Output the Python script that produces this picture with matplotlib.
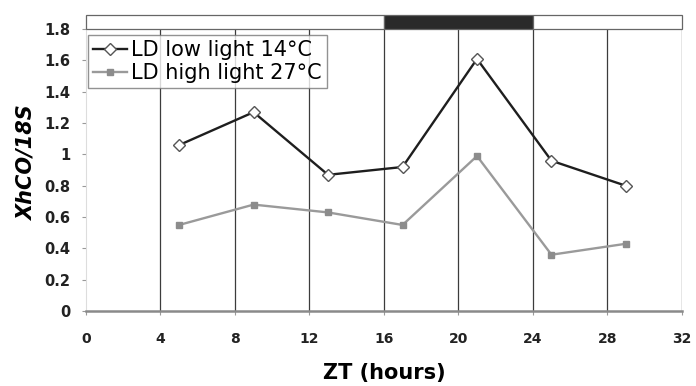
import matplotlib
matplotlib.use("Agg")
import matplotlib.pyplot as plt
from matplotlib.patches import Rectangle

plt.rcParams['font.family'] = ['DejaVu Sans']

# sampling times (ZT hours) and XhCO/18S expression
zt = [5, 9, 13, 17, 21, 25, 29]
low_light_14 = [1.06, 1.27, 0.87, 0.92, 1.61, 0.96, 0.80]
high_light_27 = [0.55, 0.68, 0.63, 0.55, 0.99, 0.36, 0.43]

x_ticks = [0, 4, 8, 12, 16, 20, 24, 28, 32]
y_ticks = [0, 0.2, 0.4, 0.6, 0.8, 1, 1.2, 1.4, 1.6, 1.8]
y_tick_labels = ['0', '0.2', '0.4', '0.6', '0.8', '1', '1.2', '1.4', '1.6', '1.8']

# light / dark phases shown in the bar above the plot
phases = [(0, 16, 'white'), (16, 24, '#2a2a2a'), (24, 32, 'white')]

fig = plt.figure(figsize=(6.96, 3.86), dpi=100)
ax = fig.add_axes([0.1236, 0.194, 0.856, 0.767])

ymax = 1.8
bar_h = 0.09
ax.set_xlim(0, 32)
ax.set_ylim(0, ymax + bar_h)

# vertical grid lines every 4 h
ax.vlines(x_ticks[1:], 0, ymax, colors='#3c3c3c', linewidth=0.9, zorder=1)

for start, end, col in phases:
    ax.add_patch(Rectangle((start, ymax), end - start, bar_h, facecolor=col,
                           edgecolor='#666666', linewidth=0.9, zorder=3,
                           clip_on=False))

ax.plot(zt, low_light_14, color='#1e1e1e', linewidth=1.7, marker='D',
        markersize=6, markerfacecolor='white', markeredgecolor='#555555',
        markeredgewidth=1.0, label='LD low light 14°C', zorder=5)
ax.plot(zt, high_light_27, color='#9a9a9a', linewidth=1.7, marker='s',
        markersize=5, markerfacecolor='#8c8c8c', markeredgecolor='#8c8c8c',
        label='LD high light 27°C', zorder=4)

for side in ['top', 'right']:
    ax.spines[side].set_visible(False)
ax.spines['left'].set_color('#dddddd')
ax.spines['left'].set_linewidth(0.8)
ax.spines['left'].set_bounds(0, ymax)
ax.spines['bottom'].set_color('#8a8a8a')
ax.spines['bottom'].set_linewidth(1.8)

ax.set_xticks(x_ticks)
ax.set_xticklabels([str(t) for t in x_ticks], fontsize=10, fontweight='bold',
                   color='#222222')
ax.set_yticks(y_ticks)
ax.set_yticklabels(y_tick_labels, fontsize=10.5, fontweight='bold',
                   color='#222222')
ax.tick_params(axis='x', length=3, pad=12, color='#999999')
ax.tick_params(axis='y', length=3, pad=8, color='#999999')

ax.set_xlabel('ZT (hours)', fontsize=15, fontweight='bold', labelpad=12)
ax.set_ylabel('XhCO/18S', fontsize=15, fontweight='bold', style='italic',
              labelpad=6)

leg = ax.legend(loc='upper left', bbox_to_anchor=(0.0, 0.94), fontsize=15,
                frameon=True, fancybox=False, handlelength=1.6,
                handletextpad=0.2, borderpad=0.25, labelspacing=0.15,
                borderaxespad=0.1)
leg.get_frame().set_edgecolor('#777777')
leg.get_frame().set_linewidth(1.0)
leg.set_zorder(6)

fig.savefig('out.png', dpi=100)
